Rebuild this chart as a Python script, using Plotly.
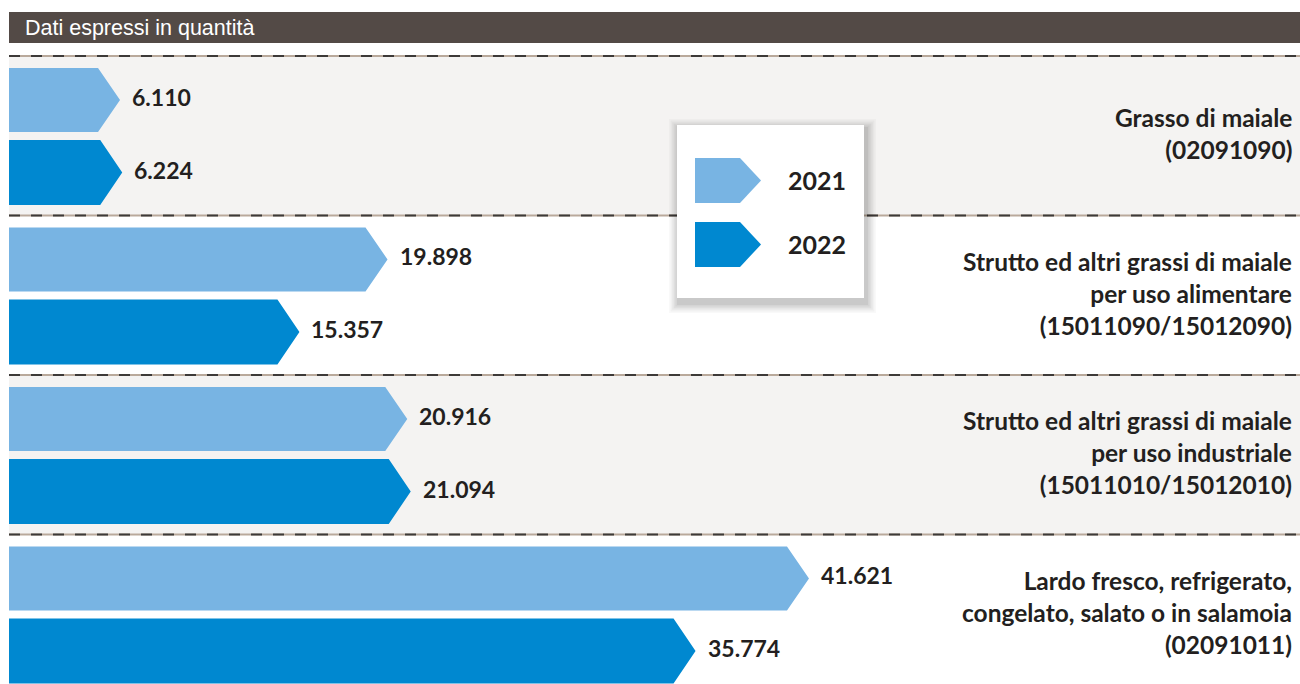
import plotly.graph_objects as go

# data
categories = [
    "Grasso di maiale<br>(02091090)",
    "Strutto ed altri grassi di maiale<br>per uso alimentare<br>(15011090/15012090)",
    "Strutto ed altri grassi di maiale<br>per uso industriale<br>(15011010/15012010)",
    "Lardo fresco, refrigerato,<br>congelato, salato o in salamoia<br>(02091011)",
]
years = ["2021", "2022"]
values_2021 = [6110, 19898, 20916, 41621]
values_2022 = [6224, 15357, 21094, 35774]

COLORS = {"2021": "#78b4e3", "2022": "#0088d0"}
TEXT = "#231f20"
FONT = "Lato, Roboto, sans-serif"

W, H = 1300, 684
ML = 9
XMIN, XMAX = 387, 66930
HEAD_PX = 22
head = HEAD_PX * (XMAX - XMIN) / (W - ML)

# y axis: one unit per category block
Y_TOP, Y_BOT = 3.937, -0.351
BAR_SPAN = {"2021": (0.075, 0.476), "2022": (0.527, 0.934)}


def fmt(v):
    return f"{v:,}".replace(",", ".")


def px(x, y):
    # pixel -> paper coords
    return (x - ML) / (W - ML), 1 - y / H


def arrow_trace(year, vals):
    xs, ys = [], []
    a, b = BAR_SPAN[year]
    for i, v in enumerate(vals):
        top, bot = i + a, i + b
        xs += [0, v - head, v, v - head, 0, 0, None]
        ys += [top, top, (top + bot) / 2, bot, bot, top, None]
    return go.Scatter(x=xs, y=ys, mode="lines", fill="toself",
                      fillcolor=COLORS[year], line=dict(width=0),
                      hoverinfo="skip", showlegend=False)


fig = go.Figure()
fig.add_trace(arrow_trace("2021", values_2021))
fig.add_trace(arrow_trace("2022", values_2022))

shapes = []
annotations = []

# alternating backgrounds
for i in range(len(categories)):
    if i % 2 == 0:
        shapes.append(dict(type="rect", xref="paper", yref="y", x0=0, x1=1,
                           y0=i, y1=i + 1, fillcolor="#f4f3f2", line_width=0,
                           layer="below"))
# dashed separators
for i in range(len(categories)):
    shapes.append(dict(type="line", xref="paper", yref="y", x0=0, x1=1, y0=i, y1=i,
                       line=dict(color="#b9a99b", width=2), layer="below"))
    shapes.append(dict(type="line", xref="paper", yref="y", x0=0, x1=1, y0=i, y1=i,
                       line=dict(color="#3d3a38", width=2, dash="11px,11px"),
                       layer="below"))

# header band
x0, y0 = px(ML, 12)
x1, y1 = px(W, 43)
shapes.append(dict(type="rect", xref="paper", yref="paper", x0=x0, x1=x1, y0=y0, y1=y1,
                   fillcolor="#534a46", line_width=0))
annotations.append(dict(text="Dati espressi in quantità", xref="paper", yref="paper",
                        x=px(23, 0)[0], y=px(0, 28)[1], xanchor="left", yanchor="middle",
                        showarrow=False,
                        font=dict(family="Liberation Sans, Arial, sans-serif",
                                  size=21.5, color="white")))

# value labels
for year, vals in zip(years, [values_2021, values_2022]):
    a, b = BAR_SPAN[year]
    for i, v in enumerate(vals):
        annotations.append(dict(text=f"<b>{fmt(v)}</b>", x=v, y=i + (a + b) / 2,
                                xref="x", yref="y", xanchor="left", yanchor="middle",
                                xshift=10, yshift=3, showarrow=False,
                                font=dict(family=FONT, size=23, color=TEXT)))

# category labels
for i, c in enumerate(categories):
    annotations.append(dict(text=f"<b>{c}</b>", x=px(1294, 0)[0], y=i + 0.5,
                            xref="paper", yref="y", xanchor="right", yanchor="middle",
                            align="right", yshift=2, showarrow=False,
                            font=dict(family=FONT, size=24.5, color=TEXT)))

# legend box with soft shadow
bx0, bx1, by0, by1 = 677, 864, 125, 298
for k, alpha in enumerate([0.025, 0.03, 0.035, 0.04, 0.045, 0.05]):
    g = 10 - k * 1.6
    sx0, sy0 = px(bx0 - g + 2, by0 - g + 4)
    sx1, sy1 = px(bx1 + g + 2, by1 + g + 5)
    shapes.append(dict(type="rect", xref="paper", yref="paper", x0=sx0, x1=sx1,
                       y0=sy0, y1=sy1, fillcolor=f"rgba(0,0,0,{alpha})", line_width=0))
lx0, ly0 = px(bx0, by0)
lx1, ly1 = px(bx1, by1)
shapes.append(dict(type="rect", xref="paper", yref="paper", x0=lx0, x1=lx1, y0=ly0, y1=ly1,
                   fillcolor="white", line_width=0))

for year, (top, bot) in zip(years, [(158, 203), (222, 267)]):
    p = [px(695, top), px(740, top), px(761, (top + bot) / 2), px(740, bot), px(695, bot)]
    path = "M " + " L ".join(f"{x},{y}" for x, y in p) + " Z"
    shapes.append(dict(type="path", xref="paper", yref="paper", path=path,
                       fillcolor=COLORS[year], line_width=0))
    annotations.append(dict(text=f"<b>{year}</b>", xref="paper", yref="paper",
                            x=px(786, 0)[0], y=px(0, (top + bot) / 2)[1],
                            xanchor="left", yanchor="middle", showarrow=False,
                            font=dict(family=FONT, size=25, color=TEXT)))

fig.update_layout(
    width=W, height=H,
    margin=dict(l=ML, r=0, t=0, b=0),
    paper_bgcolor="white", plot_bgcolor="rgba(0,0,0,0)",
    xaxis=dict(range=[XMIN, XMAX], visible=False, fixedrange=True),
    yaxis=dict(range=[Y_TOP, Y_BOT], visible=False, fixedrange=True),
    shapes=shapes, annotations=annotations,
    showlegend=False,
)

# page has a default 8px body margin; drop it so the figure sits at 0,0
fig.write_html("out.html", config={"displayModeBar": False},
               post_script="document.body.style.margin='0';")
